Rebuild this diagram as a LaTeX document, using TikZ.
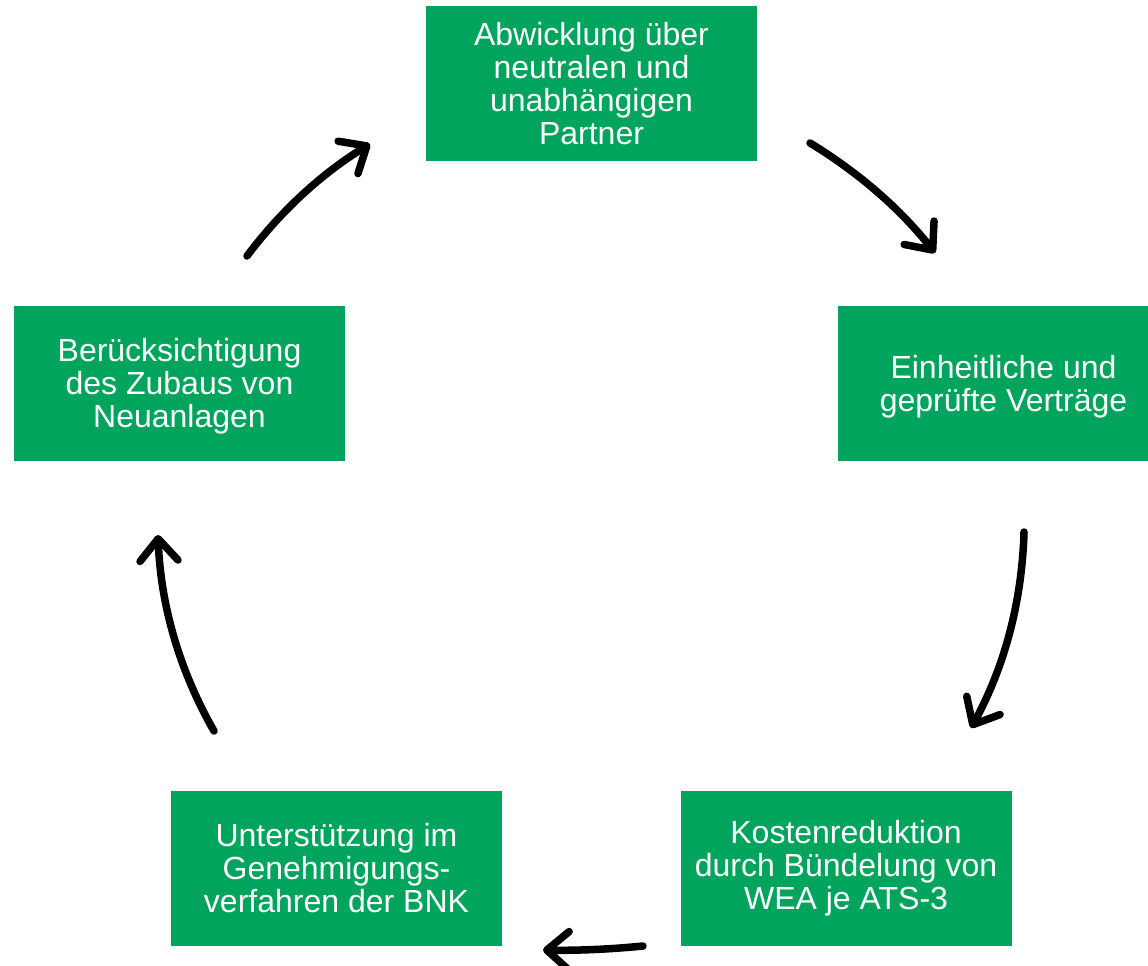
\documentclass[tikz,border=0pt]{standalone}
\usepackage{fontspec}
\setmainfont{Liberation Sans}
\usetikzlibrary{arrows.meta}
\definecolor{boxgreen}{HTML}{00A45C}
\tikzset{
  gbox/.style={fill=boxgreen, text=white, minimum width=331pt, minimum height=155pt,
    inner sep=0pt, align=center, font=\fontsize{32}{33}\selectfont},
  gtext/.style={text=white, inner sep=0pt, align=center, font=\fontsize{32}{33}\selectfont},
  cyc/.style={line width=7.5pt, line cap=round,
    -{Straight Barb[length=22pt,width=38pt,line cap=round,line join=round]}}
}
\begin{document}
\begin{tikzpicture}[x=1pt,y=-1pt]
\useasboundingbox (0,0) rectangle (1148,966);
\node[gbox] (top) at (591.5,83.5) {Abwicklung über\\neutralen und\\unabhängigen\\Partner};
\node[gbox, minimum width=310pt] (right) at (993,383.5) {};
\node[gtext] (righttext) at (1003.5,386.5) {Einheitliche und\\geprüfte Verträge};
\node[gbox] (br) at (846,868.5) {Kostenreduktion\\durch Bündelung von\\WEA je ATS-3};
\node[gbox] (bl) at (336.5,868.5) {Unterstützung im\\Genehmigungs-\\verfahren der BNK};
\node[gbox] (left) at (179.5,383.5) {};
\node[gtext] (lefttext) at (179.5,386) {Berücksichtigung\\des Zubaus von\\Neuanlagen};
\coordinate (a1s) at (810,143); \coordinate (a1e) at (935,253);
\coordinate (a2s) at (1024,532); \coordinate (a2e) at (971,728);
\coordinate (a3s) at (643,946); \coordinate (a3e) at (543,950);
\coordinate (a4s) at (214,731); \coordinate (a4e) at (158,535);
\coordinate (a5s) at (247,256); \coordinate (a5e) at (370,144);
\draw[cyc] (a1s) .. controls (859.3,173) and (901,209.7) .. (a1e);
\draw[cyc] (a2s) .. controls (1022,602) and (1004.3,667.3) .. (a2e);
\draw[cyc] (a3s) .. controls (609.7,949.3) and (576.3,950.7) .. (a3e);
\draw[cyc] (a4s) .. controls (179.3,670.3) and (160.7,605) .. (a4e);
\draw[cyc] (a5s) .. controls (281,210.7) and (322,173.3) .. (a5e);
\end{tikzpicture}
\end{document}
